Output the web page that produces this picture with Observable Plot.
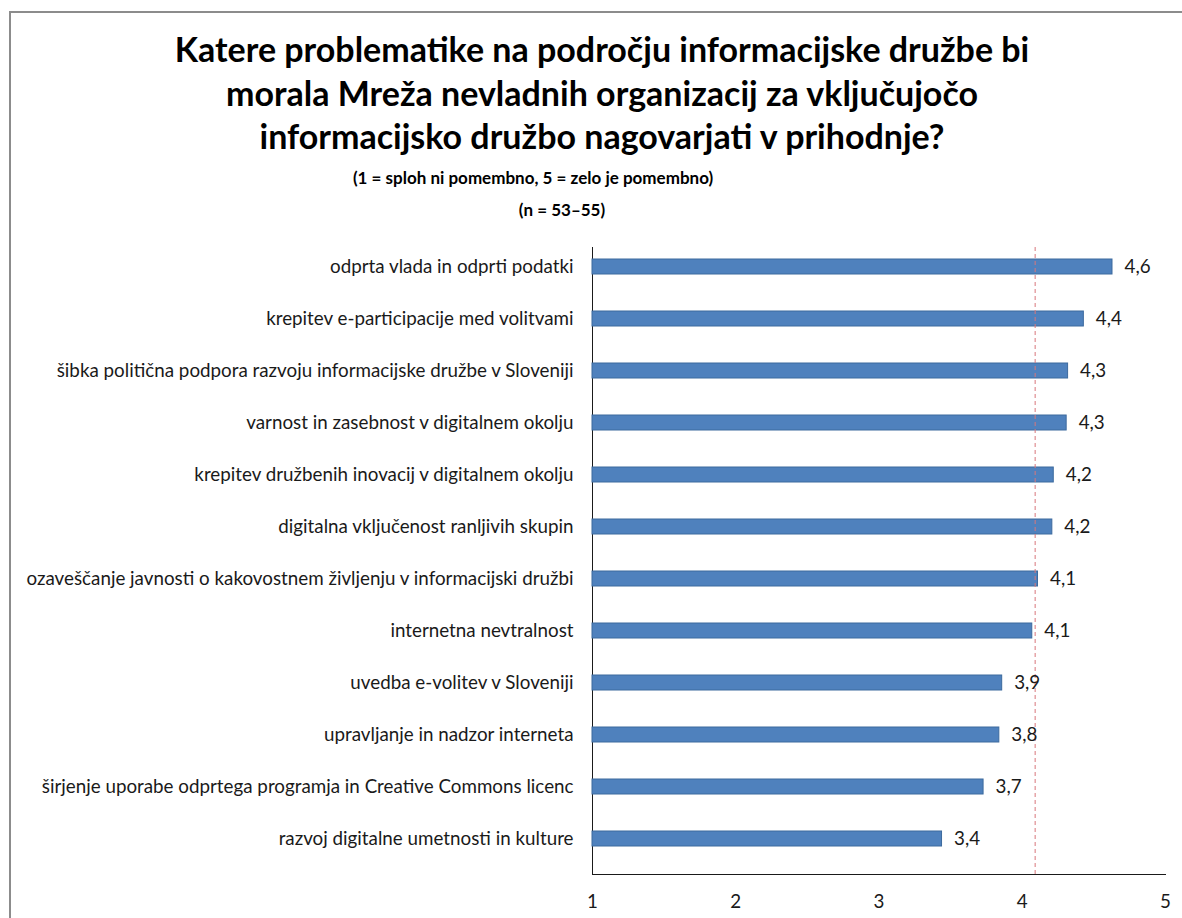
<!DOCTYPE html>
<html>
<head>
<meta charset="utf-8">
<script src="https://cdn.jsdelivr.net/npm/d3@7"></script>
<script src="https://cdn.jsdelivr.net/npm/@observablehq/plot@0.6"></script>
<style>
  html, body { margin: 0; padding: 0; background: #fff; overflow: hidden; }
  #page { position: relative; width: 1182px; height: 918px; font-family: Lato, "Open Sans", sans-serif; color: #000; }
  #border { position: absolute; left: 9px; top: 11px; width: 1200px; height: 1000px; border: 2px solid #8c8c8c; box-sizing: border-box; z-index: 2; pointer-events: none; }
  .t { position: absolute; white-space: nowrap; transform: translateX(-50%); font-weight: bold; line-height: 1.2; }
  .title { font-size: 34px; }
  .sub { font-size: 17px; }
  #chart { position: absolute; left: 0; top: 225px; }
</style>
</head>
<body>
<div id="page">
  <div id="border"></div>
  <div class="t title" style="left:602px; top:29px;">Katere problematike na področju informacijske družbe bi</div>
  <div class="t title" style="left:602px; top:73px;">morala Mreža nevladnih organizacij za vključujočo</div>
  <div class="t title" style="left:602px; top:116px;">informacijsko družbo nagovarjati v prihodnje?</div>
  <div class="t sub" style="left:533px; top:168px;">(1 = sploh ni pomembno, 5 = zelo je pomembno)</div>
  <div class="t sub" style="left:562px; top:200px;">(n = 53–55)</div>
  <div id="chart"></div>
</div>
<script>
const categories = [
  "odprta vlada in odprti podatki",
  "krepitev e-participacije med volitvami",
  "šibka politična podpora razvoju informacijske družbe v Sloveniji",
  "varnost in zasebnost v digitalnem okolju",
  "krepitev družbenih inovacij v digitalnem okolju",
  "digitalna vključenost ranljivih skupin",
  "ozaveščanje javnosti o kakovostnem življenju v informacijski družbi",
  "internetna nevtralnost",
  "uvedba e-volitev v Sloveniji",
  "upravljanje in nadzor interneta",
  "širjenje uporabe odprtega programja in Creative Commons licenc",
  "razvoj digitalne umetnosti in kulture"
];
const values = [4.63, 4.43, 4.32, 4.31, 4.22, 4.21, 4.11, 4.07, 3.86, 3.84, 3.73, 3.44];
const averageValue = 4.09;
const xTicks = [1, 2, 3, 4, 5];

const data = categories.map((c, i) => ({category: c, value: values[i], label: values[i].toFixed(1).replace(".", ",")}));

const chart = Plot.plot({
  width: 1182,
  height: 693,
  marginLeft: 592,
  marginRight: 17,
  marginTop: 22,
  marginBottom: 44,
  style: { fontFamily: "Lato, 'Open Sans', sans-serif", fontSize: "18.8px", color: "#1a1a1a", background: "none" },
  x: { domain: [1, 5], ticks: xTicks, tickSize: 0, tickPadding: 20, tickFormat: d => String(d), label: null, line: true },
  y: { domain: categories, range: [13.3, 641.7], paddingInner: 0.713, paddingOuter: 0.3565, tickSize: 0, tickPadding: 19, label: null, line: true },
  marks: [
    Plot.barX(data, { y: "category", x1: 1, x2: "value", fill: "#4f81bd", stroke: "#3c6a9e", strokeWidth: 1 }),
    Plot.ruleX([averageValue], { stroke: "#d9777c", strokeDasharray: "4,3", strokeWidth: 1 }),
    Plot.text(data, { y: "category", x: "value", text: "label", dx: 12, textAnchor: "start", fontSize: 18.8, fill: "#1a1a1a" })
  ]
});
chart.querySelectorAll("[aria-label='x-axis line'], [aria-label='y-axis line']").forEach(e => e.setAttribute("stroke", "#a6a6a6"));
document.getElementById("chart").appendChild(chart);
</script>
</body>
</html>
